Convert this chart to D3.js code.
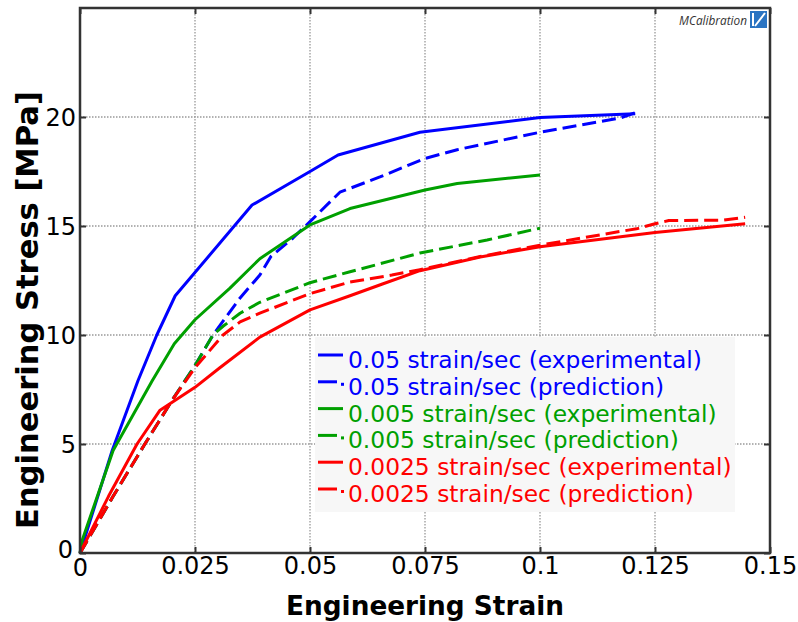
<!DOCTYPE html>
<html>
<head>
<meta charset="utf-8">
<script src="https://cdn.jsdelivr.net/npm/d3@7"></script>
<style>
  html, body { margin: 0; padding: 0; background: #fff; }
  svg { display: block; }
</style>
</head>
<body>
<svg id="chart" width="798" height="622"></svg>
<script>
// ---------- data ----------
const blueExpStrain  = [0, 0.007, 0.0126, 0.0167, 0.0207, 0.0374, 0.05, 0.0561, 0.0739, 0.1, 0.1207];
const blueExpStress  = [0, 4.7, 7.9, 10.0, 11.8, 15.96, 17.5, 18.26, 19.3, 19.98, 20.15];

const bluePredStrain = [0, 0.0072, 0.0141, 0.02, 0.025, 0.0289, 0.0348, 0.0391, 0.0415, 0.0463, 0.05, 0.0565, 0.0652, 0.075, 0.082, 0.1, 0.1174, 0.1207];
const bluePredStress = [0, 2.6, 5.0, 7.0, 8.6, 10.0, 11.7, 12.75, 13.6, 14.45, 15.2, 16.55, 17.25, 18.1, 18.5, 19.3, 19.95, 20.2];

const greenExpStrain = [0, 0.0005, 0.0072, 0.0157, 0.0205, 0.025, 0.0326, 0.0391, 0.05, 0.0587, 0.075, 0.082, 0.1];
const greenExpStress = [0, 0.6, 4.7, 7.9, 9.6, 10.7, 12.15, 13.5, 15.05, 15.8, 16.65, 16.95, 17.34];

const greenPredStrain = [0, 0.0072, 0.0141, 0.02, 0.025, 0.0289, 0.0311, 0.0348, 0.0391, 0.05, 0.0587, 0.0739, 0.0885, 0.1];
const greenPredStress = [0, 2.6, 5.0, 7.0, 8.6, 10.0, 10.4, 11.0, 11.5, 12.4, 12.9, 13.76, 14.36, 14.9];

const redExpStrain = [0, 0.0062, 0.0124, 0.0174, 0.025, 0.0304, 0.0391, 0.05, 0.0587, 0.0659, 0.0739, 0.087, 0.1, 0.125, 0.1446];
const redExpStress = [0, 2.6, 5.0, 6.55, 7.6, 8.5, 9.9, 11.15, 11.8, 12.35, 12.95, 13.58, 14.05, 14.7, 15.1];

const redPredStrain = [0, 0.0072, 0.0141, 0.02, 0.025, 0.0311, 0.0348, 0.0391, 0.05, 0.0587, 0.0678, 0.0739, 0.087, 0.1, 0.1174, 0.121, 0.125, 0.128, 0.14, 0.1446];
const redPredStress = [0, 2.6, 5.0, 7.0, 8.5, 10.0, 10.6, 11.0, 11.9, 12.43, 12.75, 13.0, 13.6, 14.12, 14.75, 14.87, 15.1, 15.25, 15.27, 15.4];

const seriesNames = [
  "0.05 strain/sec (experimental)",
  "0.05 strain/sec (prediction)",
  "0.005 strain/sec (experimental)",
  "0.005 strain/sec (prediction)",
  "0.0025 strain/sec (experimental)",
  "0.0025 strain/sec (prediction)"
];
const xTickValues = [0, 0.025, 0.05, 0.075, 0.1, 0.125, 0.15];
const xTickLabels = ["0", "0.025", "0.05", "0.075", "0.1", "0.125", "0.15"];
const yTickValues = [0, 5, 10, 15, 20];
const yTickLabels = ["0", "5", "10", "15", "20"];
const xTitle = "Engineering Strain";
const yTitle = "Engineering Stress [MPa]";

// ---------- layout ----------
const colors = { blue: "#0000ff", green: "#00a000", red: "#ff0000" };
const series = [
  { name: seriesNames[0], x: blueExpStrain,  y: blueExpStress,  color: colors.blue,  dashed: false },
  { name: seriesNames[1], x: bluePredStrain, y: bluePredStress, color: colors.blue,  dashed: true },
  { name: seriesNames[2], x: greenExpStrain, y: greenExpStress, color: colors.green, dashed: false },
  { name: seriesNames[3], x: greenPredStrain,y: greenPredStress,color: colors.green, dashed: true },
  { name: seriesNames[4], x: redExpStrain,   y: redExpStress,   color: colors.red,   dashed: false },
  { name: seriesNames[5], x: redPredStrain,  y: redPredStress,  color: colors.red,   dashed: true }
];

const L = 80, R = 770, T = 8, B = 553;
const svg = d3.select("#chart");
const font = "'DejaVu Sans', Verdana, sans-serif";

const x = d3.scaleLinear().domain([0, 0.15]).range([L, R]);
const y = d3.scaleLinear().domain([0, 25]).range([B, T]);

// grid
const grid = svg.append("g");
grid.selectAll("line.vg").data(xTickValues.filter(v => v > 0 && v < 0.15)).enter()
  .append("line").attr("x1", d => x(d)).attr("x2", d => x(d)).attr("y1", T).attr("y2", B)
  .attr("stroke", "#999").attr("stroke-width", 1.3).attr("stroke-dasharray", "1.5,1.5");
grid.selectAll("line.hg").data(yTickValues.filter(v => v > 0)).enter()
  .append("line").attr("y1", d => y(d)).attr("y2", d => y(d)).attr("x1", L).attr("x2", R)
  .attr("stroke", "#999").attr("stroke-width", 1.3).attr("stroke-dasharray", "1.5,1.5");

// legend background
const legX = 315, legY = 337, legW = 420, legH = 175;
svg.append("rect").attr("x", legX).attr("y", legY).attr("width", legW).attr("height", legH)
  .attr("fill", "#f7f7f7");

// series lines
const plot = svg.append("g");
series.forEach(s => {
  const pts = s.x.map((v, i) => [v, s.y[i]]);
  const line = d3.line().x(d => x(d[0])).y(d => y(d[1]));
  plot.append("path").datum(pts).attr("d", line)
    .attr("fill", "none").attr("stroke", s.color).attr("stroke-width", 3)
    .attr("stroke-linejoin", "round")
    .attr("stroke-dasharray", s.dashed ? "14,6" : null);
});

// axes: frame with inward ticks
const axisColor = "#333";
const ax = svg.append("g");
const xAxB = d3.axisBottom(x).tickValues(xTickValues).tickSize(-6).tickFormat((d, i) => xTickLabels[i]);
const xAxT = d3.axisTop(x).tickValues(xTickValues).tickSize(-6).tickFormat("");
const yAxL = d3.axisLeft(y).tickValues(yTickValues).tickSize(-6).tickFormat((d, i) => yTickLabels[i]);
const yAxR = d3.axisRight(y).tickValues(yTickValues).tickSize(-6).tickFormat("");

function styleAxis(g) {
  g.select(".domain").remove();
  g.selectAll(".tick line").attr("stroke", axisColor).attr("stroke-width", 2);
  g.selectAll(".tick text").attr("fill", "#000").attr("font-family", font).attr("font-size", 24);
}
const gB = ax.append("g").attr("transform", `translate(0,${B})`).call(xAxB).call(styleAxis);
gB.selectAll(".tick text").attr("y", d => d === 0 ? 6 : 4).attr("dy", "0.71em");
const gT = ax.append("g").attr("transform", `translate(0,${T})`).call(xAxT).call(styleAxis);
const gL = ax.append("g").attr("transform", `translate(${L},0)`).call(yAxL).call(styleAxis);
gL.selectAll(".tick text").attr("x", d => d === 0 ? -7 : -4).attr("dy", d => d === 0 ? "0.2em" : "0.36em");
const gR = ax.append("g").attr("transform", `translate(${R},0)`).call(yAxR).call(styleAxis);

svg.append("rect").attr("x", L).attr("y", T).attr("width", R - L).attr("height", B - T)
  .attr("fill", "none").attr("stroke", axisColor).attr("stroke-width", 2.5);

// axis titles (fit to measured widths)
function fit(t, target) {
  const w = t.node().getComputedTextLength();
  const fs = parseFloat(t.attr("font-size"));
  const nfs = fs * target / w;
  t.attr("font-size", nfs);
  return nfs;
}
const xt = svg.append("text").attr("x", (L + R) / 2).attr("y", 615).attr("text-anchor", "middle")
  .attr("font-family", font).attr("font-weight", "bold").attr("font-size", 26).text(xTitle);
fit(xt, 278);
const yt = svg.append("text").attr("transform", "translate(38,310) rotate(-90)").attr("text-anchor", "middle")
  .attr("font-family", font).attr("font-weight", "bold").attr("font-size", 30).text(yTitle);
fit(yt, 438);

// legend
const leg = svg.append("g");
const rowBase0 = 368, rowStep = 26.8;
let legFont = 22.5;
series.forEach((s, i) => {
  const by = rowBase0 + i * rowStep;
  const ly = by - 13;
  if (s.dashed) {
    leg.append("line").attr("x1", 318).attr("x2", 337).attr("y1", ly).attr("y2", ly)
      .attr("stroke", s.color).attr("stroke-width", 3);
    leg.append("rect").attr("x", 341).attr("y", ly + 1).attr("width", 3).attr("height", 3).attr("fill", s.color);
  } else {
    leg.append("line").attr("x1", 318).attr("x2", 343).attr("y1", ly).attr("y2", ly)
      .attr("stroke", s.color).attr("stroke-width", 3);
  }
  const t = leg.append("text").attr("x", 348).attr("y", by).attr("fill", s.color)
    .attr("font-family", font).attr("font-size", legFont).text(s.name);
  if (i === 0) legFont = fit(t, 354);
});

// logo
const logo = svg.append("g");
const lt = logo.append("text").attr("x", 747).attr("y", 25).attr("text-anchor", "end")
  .attr("font-family", "'Open Sans', 'DejaVu Sans', sans-serif").attr("font-style", "italic")
  .attr("font-size", 13.5).attr("fill", "#333").text("MCalibration");
fit(lt, 68);
logo.append("rect").attr("x", 750).attr("y", 11).attr("width", 17).attr("height", 17).attr("fill", "#2a74c2");
logo.append("path").attr("d", "M753,13 L753,26 M755,26 L765,13")
  .attr("stroke", "#fff").attr("stroke-width", 2).attr("fill", "none");
</script>
</body>
</html>
